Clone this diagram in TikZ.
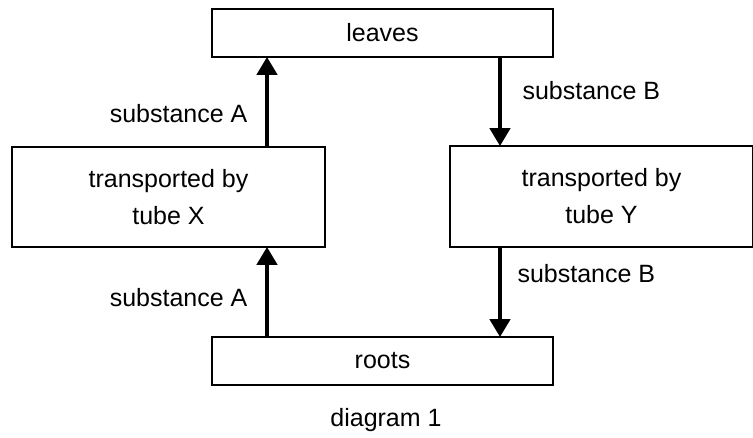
\documentclass[tikz,border=0pt]{standalone}
\usepackage{fontspec}
\setmainfont{Liberation Sans}
\usetikzlibrary{arrows.meta, calc}

\tikzset{
  part/.style={draw, line width=1.8pt, inner sep=0pt},
  flow/.style={line width=4.5pt, -{Triangle[length=18pt, width=20pt]}, shorten >=-1pt},
  lbl/.style={font=\fontsize{25}{30}\selectfont}
}

\begin{document}
\begin{tikzpicture}[x=1pt, y=-1pt, every node/.style={font=\fontsize{25}{37}\selectfont}]
  \useasboundingbox (0,0) rectangle (753,438);
  % boxes
  \node[part, minimum width=341pt, minimum height=48pt] (leaves) at (382.5,33) {leaves};
  \node[part, minimum width=313pt, minimum height=100pt, align=center] (tubex) at (168.5,197) {transported by\\tube X};
  \node[part, minimum width=303pt, minimum height=101pt, align=center] (tubey) at (601.5,196.5) {transported by\\tube Y};
  \node[part, minimum width=341pt, minimum height=48pt] (roots) at (382.5,361) {roots};
  \node (cap) at (386,420) {diagram 1};
  % arrow columns
  \coordinate (xa) at (267,0);
  \coordinate (xb) at (500,0);
  \draw[flow] (tubex.north -| xa) -- node[lbl, pos=0.37, left=14pt] (sa1) {substance A} (leaves.south -| xa);
  \draw[flow] (roots.north -| xa) -- node[lbl, pos=0.44, left=14pt] (sa2) {substance A} (tubex.south -| xa);
  \draw[flow] (leaves.south -| xb) -- node[lbl, pos=0.38, right=17pt] (sb1) {substance B} (tubey.north -| xb);
  \draw[flow] (tubey.south -| xb) -- node[lbl, pos=0.29, right=12pt] (sb2) {substance B} (roots.north -| xb);
\end{tikzpicture}
\end{document}
